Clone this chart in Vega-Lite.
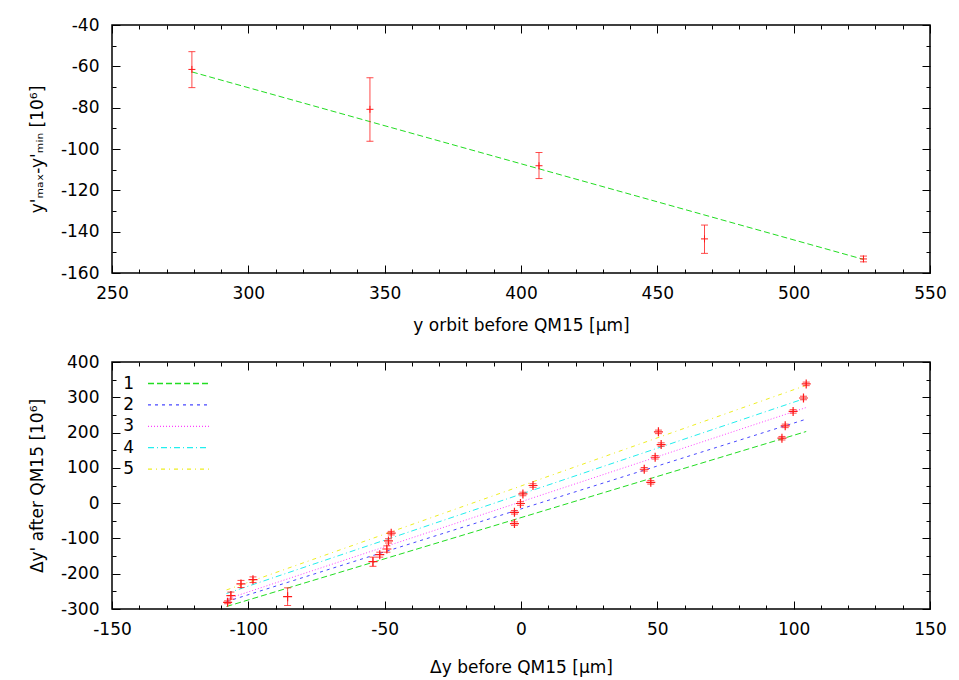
{
  "$schema": "https://vega.github.io/schema/vega-lite/v6.json",
  "background": "white",
  "padding": {"left": 27, "top": 15, "right": 5, "bottom": 5},
  "config": {
    "font": "DejaVu Sans",
    "view": {"stroke": "#000", "strokeWidth": 1.5},
    "concat": {"spacing": 18},
    "axis": {
      "labelFontSize": 17, "titleFontSize": 17, "titleFontWeight": "normal",
      "labelColor": "#000", "titleColor": "#000", "tickColor": "#000", "tickWidth": 1,
      "domain": false, "grid": false, "labelFlush": false, "labelOverlap": false,
      "labelExpr": "replace(datum.label, '−', '-')"
    },
    "legend": {"labelFontSize": 17, "labelColor": "#000"}
  },
  "datasets": {
    "topPts": [
      {"x": 279.3, "y": -61.5, "lo": -70.3, "hi": -52.9},
      {"x": 344.6, "y": -80.8, "lo": -96.3, "hi": -65.5},
      {"x": 406.6, "y": -108.1, "lo": -114.3, "hi": -101.7},
      {"x": 467.3, "y": -143.5, "lo": -150.5, "hi": -136.8},
      {"x": 525.6, "y": -153.2, "lo": -154.6, "hi": -151.8}
    ],
    "topFit": [
      {"x": 279.3, "y": -62.7},
      {"x": 525.6, "y": -153.4}
    ],
    "botPts": [
      {"x": -107.6, "y": -281, "lo": -285, "hi": -277},
      {"x": -106.4, "y": -262, "lo": -272, "hi": -252},
      {"x": -102.7, "y": -229, "lo": -239, "hi": -219},
      {"x": -98.3, "y": -217, "lo": -225, "hi": -209},
      {"x": -85.6, "y": -265, "lo": -290, "hi": -240},
      {"x": -54.3, "y": -166, "lo": -179, "hi": -153},
      {"x": -51.8, "y": -146, "lo": -153, "hi": -139},
      {"x": -49.2, "y": -130, "lo": -139, "hi": -121},
      {"x": -48.6, "y": -107, "lo": -113, "hi": -101},
      {"x": -47.6, "y": -85, "lo": -90, "hi": -80},
      {"x": -2.4, "y": -58, "lo": -63, "hi": -53},
      {"x": -2.4, "y": -26, "lo": -31, "hi": -21},
      {"x": -0.2, "y": -1, "lo": -6, "hi": 4},
      {"x": 0.7, "y": 26, "lo": 21, "hi": 31},
      {"x": 4.4, "y": 50, "lo": 45, "hi": 55},
      {"x": 45.2, "y": 96, "lo": 91, "hi": 101},
      {"x": 47.6, "y": 59, "lo": 54, "hi": 64},
      {"x": 49.2, "y": 130, "lo": 125, "hi": 135},
      {"x": 50.4, "y": 202, "lo": 197, "hi": 207},
      {"x": 51.4, "y": 166, "lo": 161, "hi": 171},
      {"x": 95.7, "y": 184, "lo": 179, "hi": 189},
      {"x": 96.9, "y": 219, "lo": 214, "hi": 224},
      {"x": 99.8, "y": 260, "lo": 255, "hi": 265},
      {"x": 103.6, "y": 298, "lo": 293, "hi": 303},
      {"x": 104.6, "y": 338, "lo": 333, "hi": 343}
    ],
    "botFit": [
      {"series": "1", "x": -108, "y": -293},
      {"series": "1", "x": 104.6, "y": 203},
      {"series": "2", "x": -108, "y": -279},
      {"series": "2", "x": 104.6, "y": 238},
      {"series": "3", "x": -108, "y": -272},
      {"series": "3", "x": 104.6, "y": 271},
      {"series": "4", "x": -108, "y": -256},
      {"series": "4", "x": 104.6, "y": 298},
      {"series": "5", "x": -108, "y": -246},
      {"series": "5", "x": 104.6, "y": 334}
    ]
  },
  "vconcat": [
    {
      "width": 818,
      "height": 248,
      "layer": [
        {
          "data": {"name": "topFit"},
          "mark": {"type": "line", "color": "#22dd22", "strokeDash": [6, 3], "strokeWidth": 1},
          "encoding": {
            "x": {"field": "x", "type": "quantitative", "scale": {"domain": [250, 550], "nice": false, "zero": false},
              "axis": {"orient": "bottom", "values": [250, 300, 350, 400, 450, 500, 550], "tickSize": -8, "labelPadding": 20, "title": "y orbit before QM15 [µm]", "titlePadding": 16}},
            "y": {"field": "y", "type": "quantitative", "scale": {"domain": [-160, -40], "nice": false, "zero": false},
              "axis": {"orient": "left", "values": [-160, -140, -120, -100, -80, -60, -40], "tickSize": -8, "labelPadding": 21, "title": "y'ₘₐₓ-y'ₘᵢₙ [10⁶]", "titlePadding": 14}}
          }
        },
        {
          "data": {"name": "topPts"},
          "mark": {"type": "rule", "color": "#ff2a2a", "strokeWidth": 1, "opacity": 0.85},
          "encoding": {
            "x": {"field": "x", "type": "quantitative", "scale": {"domain": [250, 550], "nice": false, "zero": false},
              "axis": {"orient": "top", "values": [250, 300, 350, 400, 450, 500, 550], "tickSize": -8, "labels": false, "title": null}},
            "y": {"field": "lo", "type": "quantitative", "scale": {"domain": [-160, -40], "nice": false, "zero": false},
              "axis": {"orient": "right", "values": [-160, -140, -120, -100, -80, -60, -40], "tickSize": -8, "labels": false, "title": null}},
            "y2": {"field": "hi"}
          }
        },
        {
          "data": {"name": "topPts"},
          "mark": {"type": "tick", "orient": "horizontal", "size": 7, "thickness": 1, "color": "#ff2a2a", "opacity": 0.85},
          "encoding": {
            "x": {"field": "x", "type": "quantitative", "scale": {"domain": [250, 550], "nice": false, "zero": false},
              "axis": {"orient": "bottom", "values": [260, 270, 280, 290, 310, 320, 330, 340, 360, 370, 380, 390, 410, 420, 430, 440, 460, 470, 480, 490, 510, 520, 530, 540], "tickSize": -4, "labels": false, "title": null}},
            "y": {"field": "lo", "type": "quantitative", "scale": {"domain": [-160, -40], "nice": false, "zero": false},
              "axis": {"orient": "left", "values": [-150, -130, -110, -90, -70, -50], "tickSize": -4, "labels": false, "title": null}}
          }
        },
        {
          "data": {"name": "topPts"},
          "mark": {"type": "tick", "orient": "horizontal", "size": 7, "thickness": 1, "color": "#ff2a2a", "opacity": 0.85},
          "encoding": {
            "x": {"field": "x", "type": "quantitative", "scale": {"domain": [250, 550], "nice": false, "zero": false},
              "axis": {"orient": "top", "values": [260, 270, 280, 290, 310, 320, 330, 340, 360, 370, 380, 390, 410, 420, 430, 440, 460, 470, 480, 490, 510, 520, 530, 540], "tickSize": -4, "labels": false, "title": null}},
            "y": {"field": "hi", "type": "quantitative", "scale": {"domain": [-160, -40], "nice": false, "zero": false},
              "axis": {"orient": "right", "values": [-150, -130, -110, -90, -70, -50], "tickSize": -4, "labels": false, "title": null}}
          }
        },
        {
          "data": {"name": "topPts"},
          "mark": {"type": "point", "shape": "M-1,0H1M0,-1V1", "filled": false, "size": 49, "strokeWidth": 1, "color": "#ff1a1a", "opacity": 1},
          "encoding": {
            "x": {"field": "x", "type": "quantitative", "scale": {"domain": [250, 550], "nice": false, "zero": false}, "axis": null},
            "y": {"field": "y", "type": "quantitative", "scale": {"domain": [-160, -40], "nice": false, "zero": false}, "axis": null}
          }
        }
      ]
    },
    {
      "width": 818,
      "height": 247,
      "layer": [
        {
          "data": {"name": "botFit"},
          "mark": {"type": "line", "strokeWidth": 1},
          "encoding": {
            "x": {"field": "x", "type": "quantitative", "scale": {"domain": [-150, 150], "nice": false, "zero": false},
              "axis": {"orient": "bottom", "values": [-150, -100, -50, 0, 50, 100, 150], "tickSize": -8, "labelPadding": 20, "title": "Δy before QM15 [µm]", "titlePadding": 22}},
            "y": {"field": "y", "type": "quantitative", "scale": {"domain": [-300, 400], "nice": false, "zero": false},
              "axis": {"orient": "left", "values": [-300, -200, -100, 0, 100, 200, 300, 400], "tickSize": -8, "labelPadding": 21, "title": "Δy' after QM15 [10⁶]", "titlePadding": 14}},
            "detail": {"field": "series"},
            "color": {"field": "series", "type": "nominal",
              "scale": {"domain": ["1", "2", "3", "4", "5"], "range": ["#22dd22", "#4848ff", "#ff40ff", "#22eeee", "#eeee22"]},
              "legend": {"title": null, "orient": "none", "legendX": 58, "legendY": 350, "symbolType": "M-6.1,0H6.1", "symbolSize": 100, "symbolStrokeWidth": 1.3, "symbolFillColor": "transparent", "symbolOpacity": 1, "labelOffset": -53, "labelAlign": "right", "rowPadding": 3.4, "padding": 0, "labelFontSize": 17,
                "encode": {"symbols": {"update": {"strokeDash": {"scale": "strokeDash", "field": "value"}, "stroke": {"scale": "color", "field": "value"}, "opacity": {"value": 1}}}}}},
            "strokeDash": {"field": "series", "type": "nominal",
              "scale": {"domain": ["1", "2", "3", "4", "5"], "range": [[6, 3], [3, 4], [1, 2], [6, 3, 1, 3], [4, 4, 1, 4]]},
              "legend": null}
          }
        },
        {
          "data": {"name": "botPts"},
          "mark": {"type": "rule", "color": "#ff2a2a", "strokeWidth": 1, "opacity": 0.85},
          "encoding": {
            "x": {"field": "x", "type": "quantitative", "scale": {"domain": [-150, 150], "nice": false, "zero": false},
              "axis": {"orient": "top", "values": [-150, -100, -50, 0, 50, 100, 150], "tickSize": -8, "labels": false, "title": null}},
            "y": {"field": "lo", "type": "quantitative", "scale": {"domain": [-300, 400], "nice": false, "zero": false},
              "axis": {"orient": "right", "values": [-300, -200, -100, 0, 100, 200, 300, 400], "tickSize": -8, "labels": false, "title": null}},
            "y2": {"field": "hi"}
          }
        },
        {
          "data": {"name": "botPts"},
          "mark": {"type": "tick", "orient": "horizontal", "size": 7, "thickness": 1, "color": "#ff2a2a", "opacity": 0.85},
          "encoding": {
            "x": {"field": "x", "type": "quantitative", "scale": {"domain": [-150, 150], "nice": false, "zero": false},
              "axis": {"orient": "bottom", "values": [-140, -130, -120, -110, -90, -80, -70, -60, -40, -30, -20, -10, 10, 20, 30, 40, 60, 70, 80, 90, 110, 120, 130, 140], "tickSize": -4, "labels": false, "title": null}},
            "y": {"field": "lo", "type": "quantitative", "scale": {"domain": [-300, 400], "nice": false, "zero": false},
              "axis": {"orient": "left", "values": [-250, -150, -50, 50, 150, 250, 350], "tickSize": -4, "labels": false, "title": null}}
          }
        },
        {
          "data": {"name": "botPts"},
          "mark": {"type": "tick", "orient": "horizontal", "size": 7, "thickness": 1, "color": "#ff2a2a", "opacity": 0.85},
          "encoding": {
            "x": {"field": "x", "type": "quantitative", "scale": {"domain": [-150, 150], "nice": false, "zero": false},
              "axis": {"orient": "top", "values": [-140, -130, -120, -110, -90, -80, -70, -60, -40, -30, -20, -10, 10, 20, 30, 40, 60, 70, 80, 90, 110, 120, 130, 140], "tickSize": -4, "labels": false, "title": null}},
            "y": {"field": "hi", "type": "quantitative", "scale": {"domain": [-300, 400], "nice": false, "zero": false},
              "axis": {"orient": "right", "values": [-250, -150, -50, 50, 150, 250, 350], "tickSize": -4, "labels": false, "title": null}}
          }
        },
        {
          "data": {"name": "botPts"},
          "mark": {"type": "point", "shape": "M-1,0H1M0,-1V1", "filled": false, "size": 81, "strokeWidth": 1.2, "color": "#ff1a1a", "opacity": 1},
          "encoding": {
            "x": {"field": "x", "type": "quantitative", "scale": {"domain": [-150, 150], "nice": false, "zero": false}, "axis": null},
            "y": {"field": "y", "type": "quantitative", "scale": {"domain": [-300, 400], "nice": false, "zero": false}, "axis": null}
          }
        }
      ]
    }
  ]
}
